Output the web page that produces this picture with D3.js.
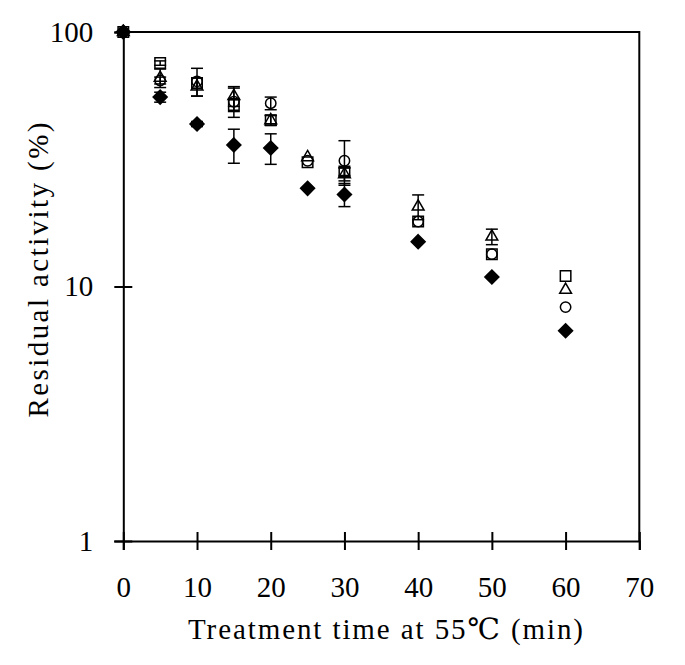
<!DOCTYPE html>
<html>
<head>
<meta charset="utf-8">
<script src="https://cdn.jsdelivr.net/npm/d3@7"></script>
<style>
  html, body { margin: 0; padding: 0; background: #fff; }
  svg { display: block; }
  svg text { font-family: "Liberation Serif", "DejaVu Serif", serif; }
</style>
</head>
<body>
<svg id="chart" width="685" height="665"></svg>
<script>
// ---- data ----
const times = [0, 5, 10, 15, 20, 25, 30, 40, 50, 60];
const diamondVals = [100, 55.5, 43.5, 36, 35, 24.3, 23, 15, 10.9, 6.7];
const diamondErr  = [0, 2.5, 1, 5.5, 4.8, 0.5, 2.4, 0.4, 0.3, 0.2];
const squareVals  = [100, 75.5, 63, 51.7, 45, 30.8, 28.3, 18.0, 13.4, 11.0];
const squareErr   = [0, 1.5, 3, 3, 2, 0.5, 1, 0.5, 0.4, 0.3];
const circleVals  = [100, 64.5, 64, 53.2, 52.5, 31.2, 31.2, 18.0, 13.4, 8.3];
const circleErr   = [0, 2, 8, 7, 3, 0.5, 6.2, 0.5, 0.4, 0.2];
const triangleVals= [100, 66, 61, 56, 45, 32.2, 27.6, 20.6, 15.7, 9.7];
const triangleErr = [0, 5.5, 5, 5, 2, 0.5, 1.6, 2.3, 1.1, 0.3];
const xTicks = [0, 10, 20, 30, 40, 50, 60, 70];
const yTicks = [1, 10, 100];
const xTitle = "Treatment time at 55℃ (min)";
const yTitle = "Residual activity (%)";

// ---- layout ----
const svg = d3.select("#chart");
const mLeft = 123.3, mRight = 639.3, mTop = 32, mBottom = 541;
const x = d3.scaleLinear().domain([0, 70]).range([mLeft, mRight]);
const y = d3.scaleLog().domain([1, 100]).range([mBottom, mTop]);
const tickFont = "Liberation Serif, DejaVu Serif, serif";

svg.append("rect").attr("width", 685).attr("height", 665).attr("fill", "#fff");

// frame (top & right)
svg.append("path")
  .attr("d", `M${mLeft},${mTop}H${mRight}V${mBottom}`)
  .attr("fill", "none").attr("stroke", "#000").attr("stroke-width", 2);

// x axis
const gx = svg.append("g").attr("transform", `translate(0,${mBottom})`)
  .call(d3.axisBottom(x).tickValues(xTicks).tickSize(9).tickPadding(26).tickFormat(d3.format("d")));
svg.append("g").attr("transform", `translate(0,${mBottom})`)
  .call(d3.axisBottom(x).tickValues(xTicks).tickSize(-9).tickFormat(""))
  .call(g => g.select(".domain").remove());

// y axis
const gy = svg.append("g").attr("transform", `translate(${mLeft},0)`)
  .call(d3.axisLeft(y).tickValues(yTicks).tickSize(9).tickPadding(21).tickFormat(d3.format("d")));
svg.append("g").attr("transform", `translate(${mLeft},0)`)
  .call(d3.axisLeft(y).tickValues([1, 10]).tickSize(-9).tickFormat(""))
  .call(g => g.select(".domain").remove());

svg.selectAll(".domain").attr("stroke", "#000").attr("stroke-width", 2);
svg.selectAll(".tick line").attr("stroke", "#000").attr("stroke-width", 2);
svg.selectAll("g").attr("font-family", null);
svg.selectAll(".tick text").style("font-family", tickFont).attr("font-size", 29).attr("fill", "#000");

// titles
svg.append("text")
  .attr("x", 385.5).attr("y", 639)
  .attr("text-anchor", "middle")
  .style("font-family", tickFont).attr("font-size", 29)
  .attr("textLength", 395).attr("lengthAdjust", "spacing")
  .text(xTitle);

svg.append("text")
  .attr("transform", "translate(48,270) rotate(-90)")
  .attr("text-anchor", "middle")
  .style("font-family", tickFont).attr("font-size", 29)
  .attr("textLength", 295).attr("lengthAdjust", "spacing")
  .text(yTitle);

// series
const series = [
  { vals: diamondVals, errs: diamondErr, sym: d3.symbolDiamond2, size: 125, fill: "#000" },
  { vals: circleVals, errs: circleErr, sym: d3.symbolCircle, size: 85, fill: "none" },
  { vals: triangleVals, errs: triangleErr, sym: d3.symbolTriangle, size: 60, fill: "none" },
  { vals: squareVals, errs: squareErr, sym: d3.symbolSquare, size: 110, fill: "none" }
];

const plot = svg.append("g");
series.forEach(s => {
  const data = times.map((t, i) => ({ t, v: s.vals[i], e: s.errs[i] }));
  const eb = plot.append("g").selectAll("g").data(data.filter(d => d.e > 0.6)).join("g");
  eb.append("line")
    .attr("x1", d => x(d.t)).attr("x2", d => x(d.t))
    .attr("y1", d => y(d.v + d.e)).attr("y2", d => y(d.v - d.e))
    .attr("stroke", "#000").attr("stroke-width", 1.5);
  [1, -1].forEach(sg => {
    eb.append("line")
      .attr("x1", d => x(d.t) - 6).attr("x2", d => x(d.t) + 6)
      .attr("y1", d => y(d.v + sg * d.e)).attr("y2", d => y(d.v + sg * d.e))
      .attr("stroke", "#000").attr("stroke-width", 1.5);
  });
  plot.append("g").selectAll("path").data(data).join("path")
    .attr("transform", d => `translate(${x(d.t)},${y(d.v)})`)
    .attr("d", d3.symbol().type(s.sym).size(s.size))
    .attr("fill", s.fill)
    .attr("stroke", "#000").attr("stroke-width", 1.5);
});
</script>
</body>
</html>
